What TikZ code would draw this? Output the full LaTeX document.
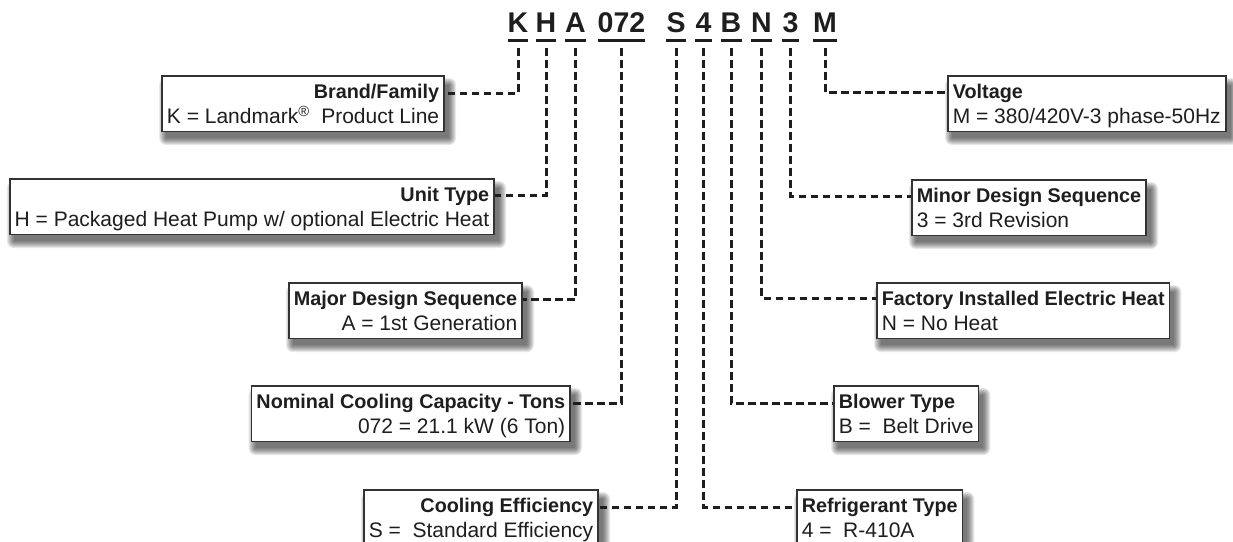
\documentclass[tikz,border=0pt]{standalone}
\usepackage{fontspec}
\setmainfont{Liberation Sans}
\usetikzlibrary{calc,backgrounds}
\definecolor{ink}{HTML}{1E1E1E}
\definecolor{edge}{HTML}{333333}
\tikzset{
 lbl/.style={draw=edge, line width=1.6pt, fill=white, inner xsep=5pt, inner ysep=6.5pt, text=ink, font=\fontsize{21}{25}\selectfont},
 lbox/.style={lbl, align=right, anchor=north east},
 rbox/.style={lbl, align=left, anchor=north west},
 code/.style={inner sep=0pt, anchor=base, text=ink, font=\fontsize{28.5}{30}\selectfont\bfseries},
 conn/.style={draw=ink, line width=3pt, dash pattern=on 7.5pt off 4.5pt},
 uline/.style={draw=ink, line width=3pt}
}
\newcommand\bx[2]{\raisebox{0pt}[16.5pt][0pt]{\fontsize{19.8}{25}\selectfont\bfseries #1}\\\raisebox{0pt}[\height][1pt]{#2}}
\newcommand\boxshadow[1]{\begin{scope}[on background layer]
 \foreach \d in {7,...,0}{\fill[black,opacity=0.085,rounded corners=\d pt] ($(#1.north west)+(5-\d,10-\d)$) rectangle ($(#1.south east)+(4+\d,6+\d)$);}
\end{scope}}
\begin{document}
\begin{tikzpicture}[x=1pt,y=-1pt]
\useasboundingbox (0,0) rectangle (1233,541);
\begin{scope}[on background layer]
\fill[white] (0,0) rectangle (1233,541);
\end{scope}
% code letters
\node[code] (K) at (518,32) {K};
\node[code] (H) at (546,32) {H};
\node[code] (A) at (575.5,32) {A};
\node[code] (C) at (621.5,32) {072};
\node[code] (S) at (676,32) {S};
\node[code] (F) at (703.5,32) {4};
\node[code] (B) at (731,32) {B};
\node[code] (N) at (761.5,32) {N};
\node[code] (T) at (790.5,32) {3};
\node[code] (M) at (825,32) {M};
\foreach \n in {K,H,A,C,S,F,B,N,T,M}{\draw[uline] ($(\n.base west)+(0,8)$) -- ($(\n.base east)+(0,8)$);}
% boxes
\node[lbox] (brand) at (445,75) {\bx{Brand/Family}{K = Landmark\textsuperscript{®}\ \ Product Line}};
\node[lbox] (unit) at (495,178) {\bx{Unit Type}{H = Packaged Heat Pump w/ optional Electric Heat}};
\node[lbox] (major) at (523,282) {\bx{Major Design Sequence}{A = 1st Generation}};
\node[lbox] (nom) at (571,385) {\bx{Nominal Cooling Capacity - Tons}{072 = 21.1 kW (6 Ton)}};
\node[lbox] (eff) at (599,489) {\bx{Cooling Efficiency}{S = \ Standard Efficiency}};
\node[rbox] (volt) at (947,75) {\bx{Voltage}{M = 380/420V-3 phase-50Hz}};
\node[rbox] (minor) at (911,179) {\bx{Minor Design Sequence}{3 = 3rd Revision}};
\node[rbox] (fact) at (876,282) {\bx{Factory Installed Electric Heat}{N = No Heat}};
\node[rbox] (blow) at (833,385) {\bx{Blower Type}{B = \ Belt Drive}};
\node[rbox] (refr) at (796,489) {\bx{Refrigerant Type}{4 = \ R-410A}};
\foreach \b in {brand,unit,major,nom,eff,volt,minor,fact,blow,refr}{\boxshadow{\b}}
% connectors
\draw[conn] ($(K.base)+(0,16)$) |- ($(brand.north east)+(0,18)$);
\draw[conn] ($(H.base)+(0,16)$) |- ($(unit.north east)+(0,17)$);
\draw[conn] ($(A.base)+(0,16)$) |- ($(major.north east)+(0,17)$);
\draw[conn] ($(C.base)+(0,16)$) |- ($(nom.north east)+(0,18)$);
\draw[conn] ($(S.base)+(0,16)$) |- ($(eff.north east)+(0,18)$);
\draw[conn] ($(F.base)+(0,16)$) |- ($(refr.north west)+(0,18)$);
\draw[conn] ($(B.base)+(0,16)$) |- ($(blow.north west)+(0,18)$);
\draw[conn] ($(N.base)+(0,16)$) |- ($(fact.north west)+(0,16)$);
\draw[conn] ($(T.base)+(0,16)$) |- ($(minor.north west)+(0,17)$);
\draw[conn] ($(M.base)+(0,16)$) |- ($(volt.north west)+(0,17)$);
\end{tikzpicture}
\end{document}
